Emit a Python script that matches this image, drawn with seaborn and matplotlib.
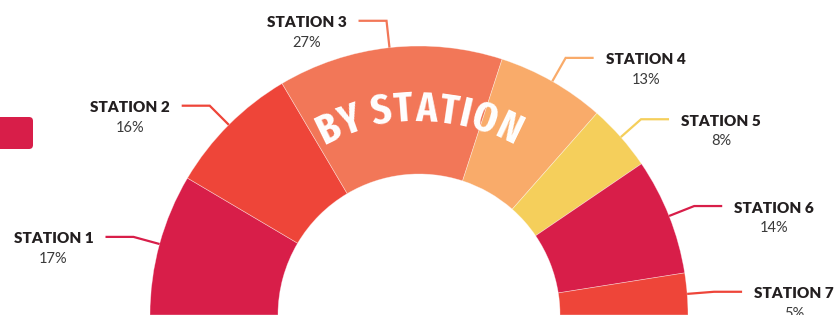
import numpy as np
import matplotlib
matplotlib.use("Agg")
import matplotlib.pyplot as plt
import seaborn as sns
from matplotlib import font_manager as fm
from matplotlib.patches import FancyBboxPatch
from matplotlib.textpath import TextPath, text_to_path

stations = ["STATION 1", "STATION 2", "STATION 3", "STATION 4",
            "STATION 5", "STATION 6", "STATION 7"]
shares = [17, 16, 27, 13, 8, 14, 5]
colors = ["#D81E49", "#EE4539", "#F27758", "#F9AB6A",
          "#F5CF5B", "#D81E49", "#EE4539"]
title = "BY STATION"

sns.set_theme(style="white")
plt.rcParams["font.family"] = ["Lato", "DejaVu Sans"]

# donut geometry, in pixel units of the 836x315 canvas (y up)
cx, cy = 419, 0
R_out, ring = 269, 128


def condensed_bold():
    best = None
    for f in fm.fontManager.ttflist:
        st = f.stretch if isinstance(f.stretch, (int, float)) else fm.stretch_dict.get(f.stretch, 500)
        wt = f.weight if isinstance(f.weight, (int, float)) else fm.weight_dict.get(f.weight, 400)
        if st >= 500 or wt < 600:
            continue
        nm = f.fname.lower().replace(" ", "").replace("-", "").replace("_", "")
        extra = 1 if ("extracond" in nm or "ultracond" in nm) else 0
        key = (st, -extra, abs(wt - 700))
        if best is None or key < best[0]:
            best = (key, f.fname)
    if best:
        return fm.FontProperties(fname=best[1])
    return fm.FontProperties(family="DejaVu Sans", weight="bold")


fig = plt.figure(figsize=(8.36, 3.15), dpi=100)
ax = fig.add_axes([0, 0, 1, 1])

ax.pie([s / 200 for s in shares], colors=colors, normalize=False,
       startangle=180, counterclock=False, radius=R_out, center=(cx, cy),
       wedgeprops=dict(width=ring, edgecolor=(1, 1, 1, 0.45), linewidth=0.5))

ax.set_xlim(0, 836)
ax.set_ylim(0, 315)
ax.set_aspect("equal")
ax.axis("off")

# little tab on the left edge
ax.add_patch(FancyBboxPatch((-20, 166), 53, 32,
                            boxstyle="round,pad=0,rounding_size=4",
                            fc="#D81E49", ec="none"))

# leader lines + labels
cum = np.cumsum([0] + shares)
for i, name in enumerate(stations):
    mid = 180 - (cum[i] + shares[i] / 2) * 1.8
    a = np.deg2rad(mid)
    x0, y0 = cx + R_out * np.cos(a), cy + R_out * np.sin(a)
    x1, y1 = cx + (R_out + 27) * np.cos(a), cy + (R_out + 27) * np.sin(a)
    side = -1 if mid > 90 else 1
    x2 = x1 + side * 28
    ax.plot([x0, x1, x2], [y0, y1, y1], color=colors[i], lw=1.6,
            solid_capstyle="butt", solid_joinstyle="miter")
    tx = x2 + side * 52
    ax.text(tx, y1 - 2, name, ha="center", va="center", fontsize=11,
            fontweight="heavy", color="#231F20")
    ax.text(tx, y1 - 22, f"{shares[i]}%", ha="center", va="center",
            fontsize=10.5, color="#3A3A3A")

# curved "BY STATION" title
fp = condensed_bold()
fp100 = fp.copy()
fp100.set_size(100)
cap = TextPath((0, 0), "H", size=100, prop=fp100).get_extents().height / 100
em_px = 40 / cap
adv = [text_to_path.get_text_width_height_descent(ch, fp100, ismath=False)[0] / 100
       for ch in title]
r_base = 194
target = 198
min_track = 1.2
nat = sum(adv) * em_px
if nat > target - min_track * (len(title) - 1):
    em_px = (target - min_track * (len(title) - 1)) / sum(adv)
    track = min_track
else:
    track = (target - nat) / (len(title) - 1)
widths = [w * em_px for w in adv]
total = sum(widths) + track * (len(title) - 1)
pos = 0
fsize = em_px * 72 / 100
for ch, w in zip(title, widths):
    s = pos + w / 2 - total / 2
    ang = 90 - np.rad2deg(s / r_base)
    a = np.deg2rad(ang)
    f = fp.copy()
    f.set_size(fsize)
    ax.text(cx + r_base * np.cos(a), cy + r_base * np.sin(a), ch,
            fontproperties=f, color="white", ha="center", va="baseline",
            rotation=ang - 90, rotation_mode="anchor")
    pos += w + track

fig.savefig("out.png", dpi=100)
